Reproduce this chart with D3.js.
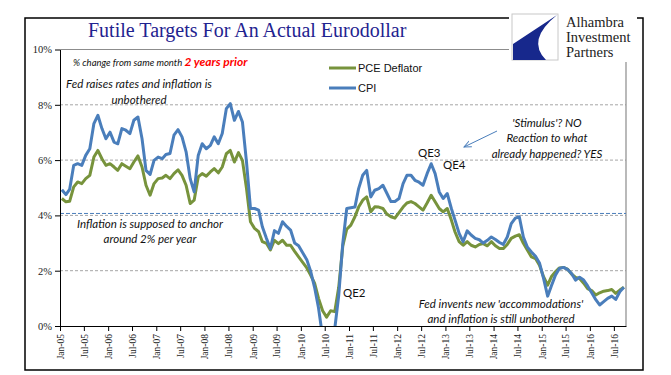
<!DOCTYPE html>
<html>
<head>
<meta charset="utf-8">
<script src="https://cdn.jsdelivr.net/npm/d3@7"></script>
<style>
  body { margin: 0; background: #fff; }
  svg { display: block; }
</style>
</head>
<body>
<div id="vis"></div>
<script>
// monthly 2-year % changes, Jan-05 .. Sep-16
const months = d3.timeMonth.range(new Date(2005, 0, 1), new Date(2016, 9, 1));

const cpi = [
  4.93, 4.75, 4.94, 5.81, 5.87, 5.81, 6.17, 6.41, 7.32, 7.62, 7.14, 6.77,
  7.01, 6.65, 6.59, 7.14, 7.08, 6.96, 7.44, 7.56, 6.77, 5.63, 5.48, 5.99,
  6.11, 6.05, 6.20, 6.24, 6.90, 7.10, 6.84, 6.30, 5.33, 4.85, 6.17, 6.59,
  6.41, 6.53, 6.84, 6.59, 6.96, 7.86, 8.04, 7.44, 7.76, 7.38, 5.93, 4.25,
  4.25, 4.19, 3.59, 3.17, 2.80, 3.45, 3.35, 3.77, 3.60, 3.47, 3.00, 2.90,
  2.65, 2.40, 2.00, 1.40, 0.65, -0.40, -0.90, -0.40, -0.10, 1.10, 3.00, 4.25,
  4.28, 4.30, 4.97, 5.45, 5.63, 4.67, 4.91, 4.97, 5.09, 4.80, 4.50, 4.50,
  4.61, 5.15, 5.45, 5.45, 5.27, 5.20, 5.09, 5.51, 5.87, 5.51, 4.85, 4.61,
  4.79, 4.25, 3.83, 3.35, 3.05, 3.44, 3.29, 3.17, 3.12, 3.00, 3.10, 3.22,
  3.13, 3.02, 2.95, 3.22, 3.70, 3.90, 3.95, 3.22, 2.85, 2.68, 2.52, 2.28,
  1.72, 1.08, 1.45, 1.84, 2.08, 2.12, 2.05, 1.90, 1.66, 1.76, 1.66, 1.45,
  1.20, 0.95, 0.76, 0.88, 1.00, 1.08, 0.96, 1.24, 1.40
];

const pce = [
  4.61, 4.49, 4.51, 5.03, 5.21, 5.15, 5.33, 5.45, 6.11, 6.35, 6.05, 5.81,
  5.87, 5.75, 5.63, 5.87, 5.78, 5.69, 5.93, 6.15, 5.75, 5.09, 4.73, 5.15,
  5.33, 5.35, 5.45, 5.33, 5.51, 5.65, 5.45, 5.09, 4.43, 4.55, 5.39, 5.51,
  5.42, 5.57, 5.69, 5.54, 5.75, 6.23, 6.35, 5.93, 6.27, 5.99, 4.97, 3.77,
  3.53, 3.41, 3.05, 2.99, 2.75, 3.10, 2.98, 3.10, 2.92, 2.92, 2.70, 2.50,
  2.30, 2.10, 1.85, 1.55, 1.00, 0.55, 0.32, 0.55, 0.52, 1.40, 2.90, 3.50,
  3.65, 3.95, 4.30, 4.55, 4.67, 4.13, 4.31, 4.30, 4.25, 4.05, 3.95, 3.90,
  4.10, 4.30, 4.45, 4.50, 4.43, 4.31, 4.19, 4.45, 4.73, 4.49, 4.25, 4.13,
  4.25, 3.83, 3.40, 3.05, 2.92, 3.05, 2.92, 2.86, 2.95, 2.98, 2.90, 3.05,
  2.90, 2.80, 2.80, 2.95, 3.17, 3.25, 3.30, 2.99, 2.74, 2.50, 2.44, 2.20,
  1.78, 1.48, 1.78, 1.96, 2.10, 2.12, 2.06, 1.88, 1.76, 1.72, 1.55, 1.35,
  1.28, 1.12, 1.20, 1.26, 1.28, 1.32, 1.18, 1.30, 1.40
];

const seriesNames = ["PCE Deflator", "CPI"];
const yTicks = [0, 2, 4, 6, 8, 10];
const anchorLevel = 4.07;

const W = 671, H = 375;
const plot = { left: 60, right: 626, top: 49.5, bottom: 326 };

const svg = d3.select("#vis").append("svg")
  .attr("width", W)
  .attr("height", H);

// outer frame
svg.append("rect")
  .attr("x", 25).attr("y", 18)
  .attr("width", 618).attr("height", 352)
  .attr("fill", "#fff")
  .attr("stroke", "#000")
  .attr("stroke-width", 1.5);

const x = d3.scaleTime()
  .domain([new Date(2005, 0, 1), new Date(2016, 9, 1)])
  .range([plot.left, plot.right]);

const y = d3.scaleLinear()
  .domain([0, 10])
  .range([plot.bottom, plot.top]);

// gridlines
svg.append("g")
  .selectAll("line")
  .data(yTicks.filter(d => d > 0 && d < 10))
  .join("line")
    .attr("x1", plot.left).attr("x2", plot.right)
    .attr("y1", d => y(d)).attr("y2", d => y(d))
    .attr("stroke", "#a6a6a6")
    .attr("stroke-dasharray", "3,2")
    .attr("stroke-width", 1);

// plot area border (top + right)
svg.append("path")
  .attr("d", `M${plot.left},${y(10)}H${plot.right}V${plot.bottom}`)
  .attr("fill", "none")
  .attr("stroke", "#8c8c8c")
  .attr("stroke-width", 1.2);

// 'anchor' dashed line
svg.append("line")
  .attr("x1", plot.left).attr("x2", plot.right)
  .attr("y1", y(anchorLevel)).attr("y2", y(anchorLevel))
  .attr("stroke", "#4A7EBB")
  .attr("stroke-dasharray", "4,2")
  .attr("stroke-width", 1);

// clip for lines dipping below zero
svg.append("clipPath").attr("id", "clip")
  .append("rect")
  .attr("x", plot.left).attr("y", plot.top)
  .attr("width", plot.right - plot.left)
  .attr("height", plot.bottom - plot.top);

const line = d3.line()
  .x((d, i) => x(d3.timeDay.offset(months[i], 14)))
  .y(d => y(d));

const colors = ["#77933C", "#4A7EBB"];

const lines = svg.append("g").attr("clip-path", "url(#clip)");
lines.append("path")
  .datum(pce)
  .attr("d", line)
  .attr("fill", "none")
  .attr("stroke", colors[0])
  .attr("stroke-width", 3)
  .attr("stroke-linejoin", "round");
lines.append("path")
  .datum(cpi)
  .attr("d", line)
  .attr("fill", "none")
  .attr("stroke", colors[1])
  .attr("stroke-width", 3)
  .attr("stroke-linejoin", "round");

// Y axis
const yAxis = svg.append("g")
  .attr("transform", `translate(${plot.left},0)`)
  .call(d3.axisLeft(y).tickValues(yTicks).tickFormat(d => d + "%").tickSize(5).tickSizeOuter(0));
yAxis.select(".domain").attr("stroke", "#000");
yAxis.selectAll("text")
  .style("font-family", "'Liberation Serif', serif")
  .style("font-size", "10.5px")
  .attr("fill", "#222")
  .attr("x", -8);

// X axis
const xAxis = svg.append("g")
  .attr("transform", `translate(0,${plot.bottom})`)
  .call(d3.axisBottom(x)
    .ticks(d3.timeMonth.every(6))
    .tickFormat(d3.timeFormat("%b-%y"))
    .tickSize(5)
    .tickSizeOuter(0));
xAxis.select(".domain").attr("stroke", "#000");
xAxis.selectAll("text")
  .style("font-family", "'Liberation Serif', serif")
  .style("font-size", "9.5px")
  .attr("fill", "#222")
  .attr("transform", "rotate(-90)")
  .attr("text-anchor", "end")
  .attr("x", -8)
  .attr("y", 0)
  .attr("dy", "0.35em");

// title
svg.append("text")
  .attr("x", 88).attr("y", 37)
  .style("font-family", "'Liberation Serif', serif")
  .style("font-size", "20px")
  .attr("fill", "#1F2390")
  .text("Futile Targets For An Actual Eurodollar");

// logo
const logo = svg.append("g");
logo.append("rect")
  .attr("x", 509).attr("y", 10)
  .attr("width", 128).attr("height", 52)
  .attr("fill", "#fff");
logo.append("rect")
  .attr("x", 512).attr("y", 14)
  .attr("width", 46).attr("height", 46)
  .attr("fill", "#fff")
  .attr("stroke", "#c8c8c8");
logo.append("path")
  .attr("d", "M513,60 L513,44 L557,15 Q526,40 546,60 Z")
  .attr("fill", "#17288C");
["Alhambra", "Investment", "Partners"].forEach((t, i) => {
  logo.append("text")
    .attr("x", 566).attr("y", 27 + i * 15)
    .style("font-family", "'Liberation Serif', serif")
    .style("font-size", "14.5px")
    .attr("fill", "#222")
    .text(t);
});

// legend
const legend = svg.append("g");
seriesNames.forEach((name, i) => {
  const ly = 68 + i * 20;
  legend.append("line")
    .attr("x1", 329).attr("x2", 356)
    .attr("y1", ly).attr("y2", ly)
    .attr("stroke", colors[i])
    .attr("stroke-width", 3);
  legend.append("text")
    .attr("x", 358).attr("y", ly + 4)
    .style("font-family", "'Liberation Sans', Arial, sans-serif")
    .style("font-size", "11px")
    .attr("fill", "#111")
    .text(name);
});

// annotations
const ann = svg.append("g")
  .style("font-family", "Lato, 'Open Sans', sans-serif")
  .style("font-style", "italic")
  .attr("fill", "#111");

const sub = ann.append("text")
  .attr("x", 73).attr("y", 66)
  .style("font-size", "9.5px");
sub.append("tspan").text("% change from same month ");
sub.append("tspan")
  .attr("fill", "#FF0000")
  .style("font-size", "12px")
  .style("font-weight", "bold")
  .text("2 years prior");

function note(lines, cx, cy, gap, size) {
  lines.forEach((t, i) => {
    ann.append("text")
      .attr("x", cx).attr("y", cy + i * gap)
      .attr("text-anchor", "middle")
      .attr("dy", "0.35em")
      .style("font-size", size + "px")
      .text(t);
  });
}
note(["Fed raises rates and  inflation is", "unbothered"], 139, 84, 16, 11.5);
note(["Inflation is supposed to anchor", "around  2% per year"], 150, 224, 15, 11.5);
note(["'Stimulus'?  NO", "Reaction to what", "already happened? YES"], 547, 123, 15.3, 11.5);
note(["Fed invents new 'accommodations'", "and inflation is still unbothered"], 501, 304, 14.5, 11.5);

// QE labels
[["QE3", 418, 153], ["QE4", 443, 165], ["QE2", 343, 293]].forEach(([t, lx, ly]) => {
  svg.append("text")
    .attr("x", lx).attr("y", ly)
    .attr("dy", "0.35em")
    .style("font-family", "Lato, sans-serif")
    .style("font-size", "11.5px")
    .attr("fill", "#111")
    .text(t);
});

// arrow
svg.append("defs").append("marker")
  .attr("id", "arr")
  .attr("viewBox", "0 0 10 10")
  .attr("refX", 9).attr("refY", 5)
  .attr("markerWidth", 8).attr("markerHeight", 8)
  .attr("orient", "auto")
  .append("path")
  .attr("d", "M0,1 L9,5 L0,9")
  .attr("fill", "none")
  .attr("stroke", "#4A7EBB")
  .attr("stroke-width", 1.2);
svg.append("line")
  .attr("x1", 497).attr("y1", 131)
  .attr("x2", 464).attr("y2", 147)
  .attr("stroke", "#4A7EBB")
  .attr("stroke-width", 1)
  .attr("marker-end", "url(#arr)");
</script>
</body>
</html>
